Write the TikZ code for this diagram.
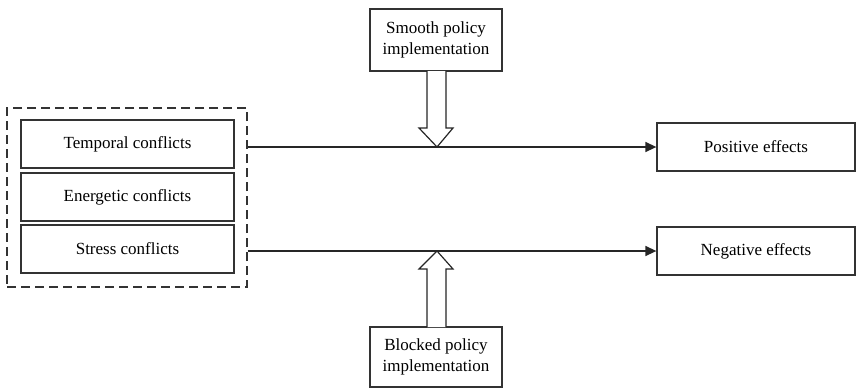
\documentclass[tikz,border=0pt]{standalone}
\usepackage{fontspec}
\setmainfont{Liberation Serif}
\usetikzlibrary{arrows.meta}
\begin{document}
\begin{tikzpicture}[x=1pt,y=-1pt,
  box/.style={draw=black!80,line width=1.3pt,inner sep=0pt,align=center,font=\fontsize{17}{20.5}\selectfont},
  conn/.style={line width=1.4pt,draw=black!85,-{Triangle[length=11pt,width=10pt]}},
  hollow/.style={draw=black!85,line width=1.2pt,fill=white,line join=miter}]
\useasboundingbox (0,0) rectangle (857,389);
\node[draw=black!80,dashed,dash pattern=on 9pt off 5pt,line width=1.3pt,minimum width=240pt,minimum height=179pt] (grp) at (127,197.5) {};
\node[box,minimum width=213pt,minimum height=48pt] (tc) at (127.5,144) {Temporal conflicts};
\node[box,minimum width=213pt,minimum height=48pt] (ec) at (127.5,197) {Energetic conflicts};
\node[box,minimum width=213pt,minimum height=48pt] (sc) at (127.5,249) {Stress conflicts};
\node[box,minimum width=198pt,minimum height=48pt] (pe) at (756,147) {Positive effects};
\node[box,minimum width=198pt,minimum height=48pt] (ne) at (756,251) {Negative effects};
\node[box,minimum width=132pt,minimum height=62pt] (sp) at (436,40) {Smooth policy\\implementation};
\node[box,minimum width=132pt,minimum height=60pt] (bp) at (436,357) {Blocked policy\\implementation};
\draw[conn] (grp.east |- pe.west) -- (pe.west);
\draw[conn] (grp.east |- ne.west) -- (ne.west);
\coordinate (t1) at (437,147);
\coordinate (t2) at (437,251);
\draw[hollow] (427,71) -- (427,128) -- (419,128) -- (t1) -- (453,128) -- (446,128) -- (446,71);
\draw[hollow] (427,327) -- (427,269) -- (419,269) -- (t2) -- (453,269) -- (446,269) -- (446,327);
\end{tikzpicture}
\end{document}
